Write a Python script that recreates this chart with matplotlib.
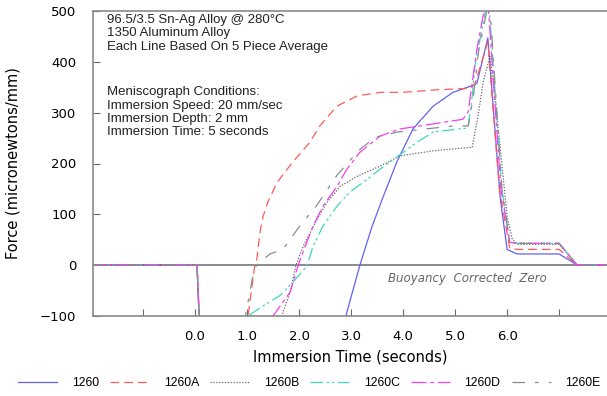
import matplotlib
matplotlib.use("Agg")
import matplotlib.pyplot as plt
import numpy as np

# Meniscograph curves (time in s, force in micronewtons/mm)
t_1260 = [-2.0, 0.0, 0.04, 0.2, 2.6, 2.9, 3.17, 3.4, 3.6, 3.88, 4.19, 4.58, 4.96, 5.35, 5.42,
          5.63, 5.87, 6.0, 6.19, 7.0, 7.35, 7.92]
f_1260 = [0, 0, 0, -400, -400, -100, 0, 75, 130, 203, 268, 313, 340, 354, 358,
          447, 130, 31, 22, 22, 0, 0]

t_1260A = [-2.0, 0.0, 0.04, 0.2, 0.8, 1.02, 1.15, 1.19, 1.25, 1.31, 1.40, 1.58, 1.88, 2.21, 2.40,
           2.73, 3.12, 3.56, 4.0, 4.65, 5.29, 5.38, 5.63, 5.85, 6.05, 6.2, 7.0, 7.35, 7.92]
f_1260A = [0, 0, 0, -400, -400, -100, 0, 12, 65, 96, 124, 163, 203, 242, 274,
           313, 333, 340, 340, 345, 348, 356, 439, 150, 33, 31, 31, 0, 0]

t_1260B = [-2.0, 0.0, 0.04, 0.2, 1.4, 1.69, 1.83, 1.94, 2.08, 2.35, 2.54, 2.79, 3.12, 3.56, 3.94,
           4.58, 5.33, 5.44, 5.54, 5.67, 5.77, 5.87, 6.0, 6.1, 6.2, 7.0, 7.35, 7.92]
f_1260B = [0, 0, 0, -400, -400, -93, -53, 0, 37, 91, 124, 155, 175, 195, 215,
           225, 232, 293, 360, 411, 327, 228, 96, 51, 41, 41, 0, 0]

t_1260C = [-2.0, 0.0, 0.04, 0.2, 0.9, 1.02, 1.31, 1.63, 1.88, 2.15, 2.27, 2.46, 2.73, 2.98, 3.31,
           3.56, 4.27, 4.58, 5.25, 5.33, 5.38, 5.64, 5.9, 6.05, 6.2, 7.0, 7.35, 7.92]
f_1260C = [0, 0, 0, -400, -400, -100, -80, -60, -34, -2, 37, 77, 116, 144, 169,
           189, 242, 262, 270, 333, 392, 530, 150, 45, 43, 43, 0, 0]

t_1260D = [-2.0, 0.0, 0.04, 0.2, 1.3, 1.5, 1.83, 2.0, 2.27, 2.46, 2.73, 2.92, 3.17, 3.56, 3.94,
           4.58, 5.15, 5.25, 5.33, 5.42, 5.62, 5.88, 6.05, 6.2, 7.0, 7.35, 7.92]
f_1260D = [0, 0, 0, -400, -400, -100, -53, 5, 77, 116, 155, 189, 222, 254, 268,
           278, 287, 301, 360, 425, 535, 150, 45, 43, 43, 0, 0]

t_1260E = [-2.0, 0.0, 0.04, 0.2, 0.8, 0.97, 1.1, 1.18, 1.44, 1.69, 2.0, 2.33, 2.73, 3.17, 3.48,
           3.9, 4.98, 5.25, 5.35, 5.45, 5.66, 5.9, 6.05, 6.2, 7.0, 7.35, 7.92]
f_1260E = [0, 0, 0, -400, -400, -100, -28, 0, 22, 31, 75, 116, 177, 228, 252,
           262, 274, 274, 330, 420, 525, 150, 45, 43, 43, 0, 0]

labels = ["1260", "1260A", "1260B", "1260C", "1260D", "1260E"]
colors = ["#6262f2", "#ff5a5a", "#666666", "#3fd9b5", "#f23ff2", "#8c8c8c"]
dashes = [None, (7, 4), (1, 1.3), (10, 3, 2, 2, 2, 3), (12, 3, 3, 3), (10, 8, 3, 8)]
times = [t_1260, t_1260A, t_1260B, t_1260C, t_1260D, t_1260E]
forces = [f_1260, f_1260A, f_1260B, f_1260C, f_1260D, f_1260E]

xtick_pos = [-1, 0, 1, 2, 3, 4, 5, 6, 7]
xtick_lab = ["", "0.0", "1.0", "2.0", "3.0", "4.0", "5.0", "6.0", ""]
ytick_pos = [-100, 0, 100, 200, 300, 400, 500]

fig = plt.figure(figsize=(6.07, 3.96), dpi=100)
ax = fig.add_axes([93 / 607, 1 - 316 / 396, 1 - 93 / 607, (316 - 11) / 396])

ax.axhline(0, color="#8a8a8a", linewidth=1.4, zorder=1)

for t, f, lab, c, d in zip(times, forces, labels, colors, dashes):
    line, = ax.plot(t, f, color=c, linewidth=0.9, label=lab, zorder=2)
    if d is not None:
        line.set_dashes(d)

ax.set_xlim(-1.96, 7.92)
ax.set_ylim(-100, 500)
ax.set_xticks(xtick_pos)
ax.set_xticklabels(xtick_lab)
ax.set_yticks(ytick_pos)
ax.tick_params(direction="in", length=5, color="#666666", labelsize=9.5, pad=10)
ax.tick_params(axis="y", pad=12)
for s in ["left", "top", "bottom"]:
    ax.spines[s].set_color("#8a8a8a")
    ax.spines[s].set_linewidth(1.2)
ax.spines["right"].set_visible(False)

ax.set_xlabel("Immersion Time (seconds)", fontsize=10.5, labelpad=5)
ax.set_ylabel("Force (micronewtons/mm)", fontsize=10.5, labelpad=14)

info = "96.5/3.5 Sn-Ag Alloy @ 280°C\n1350 Aluminum Alloy\nEach Line Based On 5 Piece Average"
cond = ("Meniscograph Conditions:\nImmersion Speed: 20 mm/sec\n"
        "Immersion Depth: 2 mm\nImmersion Time: 5 seconds")
ax.text(-1.7, 494, info, family="Liberation Sans", fontsize=9.5, va="top",
        linespacing=1.15, color="#222222")
ax.text(-1.7, 352, cond, family="Liberation Sans", fontsize=9.5, va="top",
        linespacing=1.15, color="#222222")
ax.text(5.23, -26, "Buoyancy  Corrected  Zero", fontsize=8.5, style="italic",
        color="#666666", ha="center", va="center")

fig.legend(loc="center left", bbox_to_anchor=(18 / 607, 1 - 383 / 396), ncol=6, frameon=False,
           borderpad=0, borderaxespad=0,
           handlelength=3.2, handletextpad=1.2, columnspacing=0.9,
           prop={"family": "Liberation Sans", "size": 8.8})

fig.savefig("out.png", dpi=100)
